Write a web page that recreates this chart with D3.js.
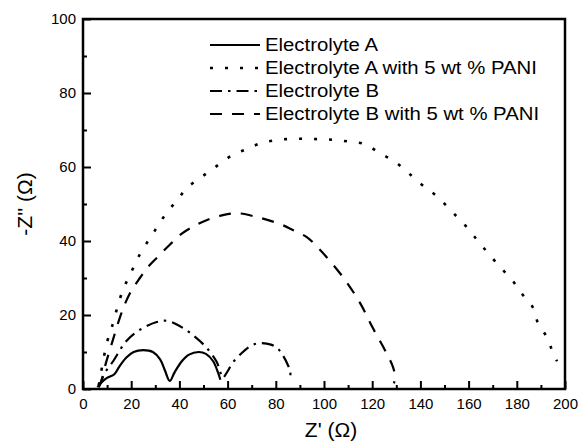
<!DOCTYPE html>
<html>
<head>
<meta charset="utf-8">
<script src="https://cdn.jsdelivr.net/npm/d3@7"></script>
<style>
  body { margin: 0; background: #fff; }
  svg { display: block; font-family: "Liberation Sans", Arial, sans-serif; }
  .tick text { font-size: 15px; fill: #000; }
</style>
</head>
<body>
<svg id="chart" width="584" height="441"></svg>
<script>
// series: [Z', -Z'']
const electrolyteA = [[6,0.5],[8,2],[10,3],[13,4],[15,6],[18,8.5],[21,10],[25,10.5],[29,10],[32,8],[34,5],[36,2.2],[38,4.5],[41,7.5],[44,9.3],[48,10],[51,9.5],[54,7.5],[56,4.5],[57,2.5]];
const electrolyteAPani = [[6.5,1],[7,2.4],[7.9,6],[10,12.7],[12,16.8],[15.4,24.6],[17.4,28],[20.3,32],[23,35.7],[26.5,39.5],[30,43],[34,47],[39,51],[43.6,54.6],[49.8,57.6],[56,60.5],[62,63.2],[68.5,65],[74,66.5],[80.5,67.3],[86.7,67.6],[93,67.6],[99,67.5],[105,67.3],[111,66.8],[117,66.2],[123,63.8],[129.5,61.4],[135,58.4],[141,55],[147,52],[153,48],[158.5,44.3],[163.5,40.3],[168,36.8],[173,33],[178,29.5],[182.5,25.4],[186.7,22],[188.8,17.8],[192.5,14],[194.6,10.5],[196.7,7.5]];
const electrolyteB = [[6.5,0.5],[7.5,2],[9,4.3],[12.5,7.5],[18,13],[23.6,16],[30.6,18.1],[35,18.4],[41.5,16.5],[47,13.8],[51.5,11],[55.5,7.3],[57,4.5],[58,3],[60,4.8],[62,7],[66,9.8],[70,11.8],[73.5,12.4],[78,12],[81,10.8],[83,9],[85,6.5],[86,4.6],[86,2.5]];
const electrolyteBPani = [[6.5,0.5],[7.5,2],[9.5,7],[12,12.4],[15.4,19.5],[17.4,23],[20,26.5],[23.6,30],[27,33],[31,35.7],[36,39],[41,42],[46,44],[51.5,45.7],[58,47],[64,47.5],[72,46.5],[81.7,44.6],[87,43],[93,41],[97,38.5],[101,35.7],[108.7,29.5],[115,23.2],[120,16.8],[125.3,10.5],[128.6,6],[129.5,3.2],[129,1.5]];

const seriesNames = ["Electrolyte A", "Electrolyte A with 5 wt % PANI", "Electrolyte B", "Electrolyte B with 5 wt % PANI"];
const seriesData = [electrolyteA, electrolyteAPani, electrolyteB, electrolyteBPani];
const dashes = [null, "3,12", "12,6,2.5,6", "12,10"];

const xTicks = [0, 20, 40, 60, 80, 100, 120, 140, 160, 180, 200];
const yTicks = [0, 20, 40, 60, 80, 100];

const svg = d3.select("#chart");
const margin = { top: 19, right: 19, bottom: 52, left: 83 };
const width = 584 - margin.left - margin.right;
const height = 441 - margin.top - margin.bottom;

const g = svg.append("g").attr("transform", `translate(${margin.left},${margin.top})`);

const x = d3.scaleLinear().domain([0, 200]).range([0, width]);
const y = d3.scaleLinear().domain([0, 100]).range([height, 0]);

// minor ticks first
g.append("g")
  .attr("transform", `translate(0,${height})`)
  .call(d3.axisBottom(x).tickValues(d3.range(10, 200, 20)).tickSize(-4).tickFormat(""))
  .call(a => a.select(".domain").remove())
  .selectAll("line").attr("stroke-width", 2);
g.append("g")
  .call(d3.axisLeft(y).tickValues(d3.range(10, 100, 20)).tickSize(-4).tickFormat(""))
  .call(a => a.select(".domain").remove())
  .selectAll("line").attr("stroke-width", 2);

const xAxis = g.append("g")
  .attr("transform", `translate(0,${height})`)
  .call(d3.axisBottom(x).tickValues(xTicks).tickSize(-8).tickPadding(9));
xAxis.select(".domain").remove();
xAxis.selectAll("line").attr("stroke-width", 2);

const yAxis = g.append("g")
  .call(d3.axisLeft(y).tickValues(yTicks).tickSize(-8).tickPadding(6));
yAxis.select(".domain").remove();
yAxis.selectAll("line").attr("stroke-width", 2);
yAxis.selectAll("text").attr("dx", "-1");

// frame
g.append("rect")
  .attr("width", width).attr("height", height)
  .attr("fill", "none").attr("stroke", "#000").attr("stroke-width", 2.5);

const line = d3.line()
  .x(d => x(d[0])).y(d => y(d[1]))
  .curve(d3.curveCatmullRom.alpha(0.5));

seriesData.forEach((data, i) => {
  g.append("path")
    .datum(data)
    .attr("d", line)
    .attr("fill", "none")
    .attr("stroke", "#000")
    .attr("stroke-width", i === 1 ? 2.6 : 2.2)
    .attr("stroke-dasharray", dashes[i]);
});

// legend
const legend = g.append("g").attr("transform", `translate(${210 - margin.left},${45 - margin.top})`);
seriesNames.forEach((name, i) => {
  const row = legend.append("g").attr("transform", `translate(0,${i * 23})`);
  row.append("line")
    .attr("x1", 0).attr("x2", 50)
    .attr("stroke", "#000").attr("stroke-width", i === 1 ? 2.6 : 2.2)
    .attr("stroke-dasharray", dashes[i]);
  row.append("text")
    .attr("transform", "translate(55,0) scale(1.13,1)")
    .attr("dy", "0.35em")
    .attr("font-size", 18)
    .text(name);
});

// axis titles
svg.append("text")
  .attr("x", margin.left + width / 2 + 7).attr("y", 437)
  .attr("text-anchor", "middle").attr("font-size", 21)
  .text("Z' (Ω)");
svg.append("text")
  .attr("transform", `translate(32,${margin.top + height / 2}) rotate(-90)`)
  .attr("text-anchor", "middle").attr("font-size", 21)
  .text("-Z'' (Ω)");
</script>
</body>
</html>
